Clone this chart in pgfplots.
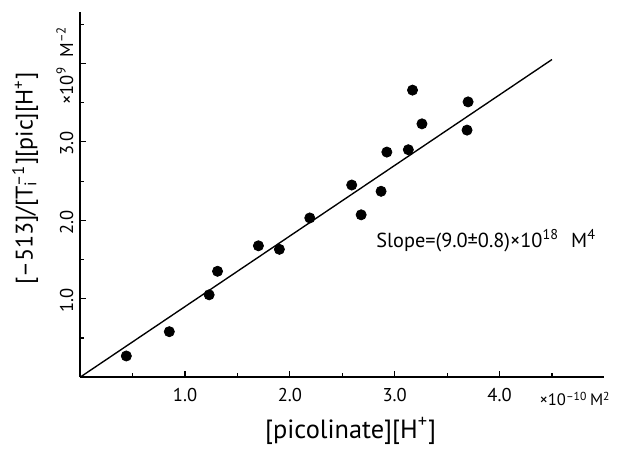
\documentclass[border=0pt]{standalone}
\usepackage{fontspec}
\setmainfont{PT Sans}
\usepackage{pgfplots}
\pgfplotsset{compat=1.18}

\begin{document}
\begin{tikzpicture}
\begin{axis}[
    scale only axis,
    width=267.5bp, height=186.5bp,
    xmin=0, xmax=5.0,
    ymin=0, ymax=4.66,
    clip=false,
    axis x line*=bottom, axis y line*=left,
    x axis line style={-}, y axis line style={-},
    axis line style={line width=0.8pt},
    xtick={1,2,3,4}, xticklabels={1.0,2.0,3.0,4.0},
    minor xtick={0.5,1.5,2.5,3.5,4.5},
    ytick={1,2,3,4},
    yticklabels={1.0,2.0,3.0,{×10\textsuperscript{9}\,\,\,M\textsuperscript{--2}}},
    minor ytick={0.5,1.5,2.5,3.5,4.5},
    tick align=inside,
    major tick length=3pt, minor tick length=2pt,
    tick style={black, line width=0.6pt},
    ticklabel style={font=\fontsize{9.5}{11}\selectfont},
    xticklabel style={yshift=-2bp},
    yticklabel style={rotate=90, anchor=south, xshift=-1bp},
    xlabel={[picolinate][H\textsuperscript{+}]},
    ylabel={[--513]/[T\rlap{\textsubscript{i}}\textsuperscript{--1}][pic][H\textsuperscript{+}]},
    xlabel style={font=\fontsize{13.5}{15}\selectfont,
        at={(axis description cs:0.516,-0.147)}, anchor=center},
    ylabel style={font=\fontsize{12.3}{14}\selectfont,
        at={(axis description cs:-0.105,0.544)}, anchor=center},
]
\addplot[only marks, mark=*, mark size=2.6pt, black] coordinates {
    (0.44,0.27) (0.85,0.58) (1.23,1.05) (1.31,1.35)
    (1.70,1.675) (1.90,1.63) (2.19,2.03) (2.59,2.45)
    (2.68,2.07) (2.87,2.37) (2.925,2.87) (3.13,2.90)
    (3.17,3.66) (3.26,3.23) (3.70,3.51) (3.69,3.15)
};
\addplot[black, line width=0.7pt] coordinates {(0,0) (4.5,4.05)};

\node[anchor=north, font=\fontsize{8.5}{10}\selectfont, yshift=-4bp]
    at (axis cs:4.72,0) {×10\textsuperscript{--10}\,M\textsuperscript{2}};
\node[anchor=west, font=\fontsize{10.4}{12}\selectfont]
    at (axis cs:2.76,1.74) {Slope=(9.0±0.8)×10\textsuperscript{18}\,\, M\textsuperscript{4}};

\path (rel axis cs:-0.153,-0.18) rectangle (rel axis cs:1,1.032);
\end{axis}
\end{tikzpicture}
\end{document}
